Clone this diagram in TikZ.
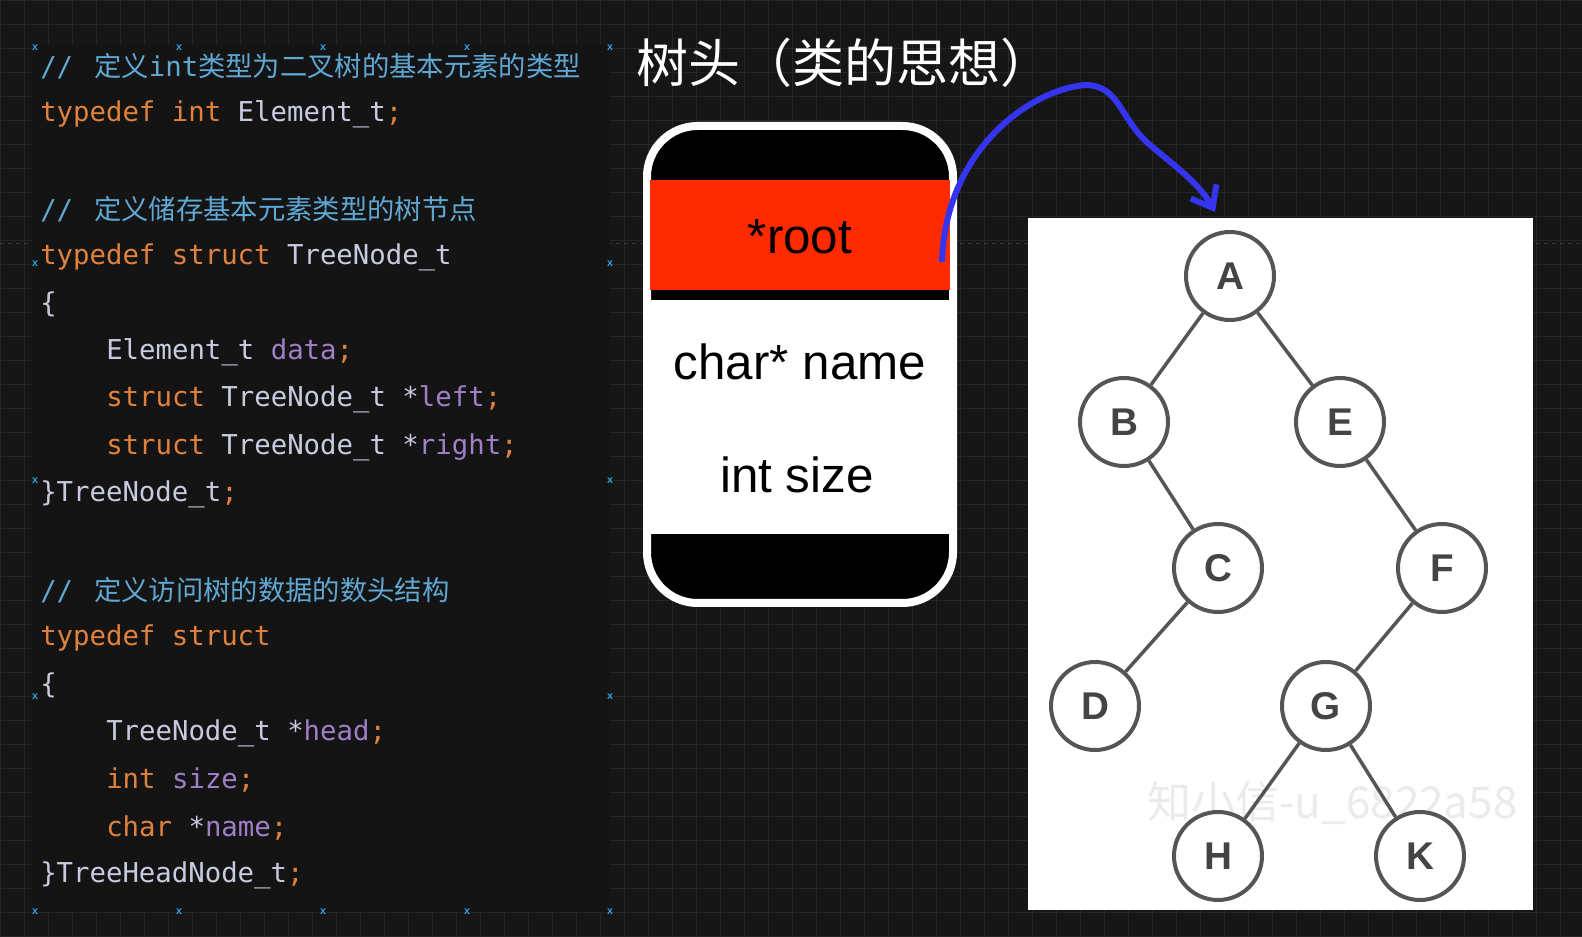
\documentclass[tikz,border=0pt]{standalone}
\usepackage{fontspec}
\setmainfont{Liberation Sans}
\setmonofont{DejaVu Sans Mono}
\newfontfamily\cjk{Noto Sans CJK SC}
\usetikzlibrary{arrows.meta}
\definecolor{bgc}{HTML}{161616}
\definecolor{gridc}{HTML}{262626}
\definecolor{dashc}{HTML}{3A3A3A}
\definecolor{kw}{HTML}{E0823D}
\definecolor{tx}{HTML}{C8CBE0}
\definecolor{fd}{HTML}{A07FC8}
\definecolor{cm}{HTML}{5FA8D3}
\definecolor{mk}{HTML}{2BA3E0}
\definecolor{rootred}{HTML}{FF2A00}
\definecolor{arr}{HTML}{3535F0}
\definecolor{tn}{HTML}{555555}
\tikzset{
 code/.style={anchor=west,inner sep=0,font=\ttfamily\fontsize{20.5}{20.5}\selectfont,text=tx},
 cmt/.style={anchor=west,inner sep=0,font=\cjk\fontsize{20.5}{20.5}\selectfont,text=cm},
 big/.style={font=\fontsize{37}{37}\selectfont},
 tnode/.style={circle,draw=tn,line width=3pt,fill=white,minimum size=66pt,inner sep=0,font=\bfseries\fontsize{29}{29}\selectfont,text=tn!80!black},
 tedge/.style={draw=tn,line width=2.6pt}
}
\newcommand{\xm}[2]{\node[text=mk,inner sep=0,font=\bfseries\fontsize{8}{8}\selectfont] at (#1,#2) {x};}
\begin{document}
\begin{tikzpicture}[x=0.75pt,y=-0.75pt]
\useasboundingbox (0,0) rectangle (1582,937);
\fill[bgc] (0,0) rectangle (1582,937);
\foreach \i in {0,24,...,1582} \draw[gridc,line width=0.4pt] (\i,0) -- (\i,937);
\foreach \j in {0,24,...,937} \draw[gridc,line width=0.4pt] (0,\j) -- (1582,\j);
\draw[dashc,dashed,line width=0.6pt] (0,243) -- (1582,243);
\fill[black!92] (32,45) rectangle (610,912);
\foreach \a/\b in {35/48,179/48,323/48,467/48,610/48,35/264,610/264,35/481,610/481,35/697,610/697,35/912,179/912,323/912,467/912,610/912} {\xm{\a}{\b}}
% code
\node[cmt] at (40,66) {{\ttfamily //\ }\,定义{\ttfamily int}类型为二叉树的基本元素的类型};
\node[code] at (40,114) {\textcolor{kw}{typedef int} Element\_t\textcolor{kw}{;}};
\node[cmt] at (40,209) {{\ttfamily //\ }\,定义储存基本元素类型的树节点};
\node[code] at (40,257) {\textcolor{kw}{typedef struct} TreeNode\_t};
\node[code] at (40,304) {\{};
\node[code] at (106,352) {Element\_t \textcolor{fd}{data}\textcolor{kw}{;}};
\node[code] at (106,399) {\textcolor{kw}{struct} TreeNode\_t *\textcolor{fd}{left}\textcolor{kw}{;}};
\node[code] at (106,447) {\textcolor{kw}{struct} TreeNode\_t *\textcolor{fd}{right}\textcolor{kw}{;}};
\node[code] at (40,494) {\}TreeNode\_t\textcolor{kw}{;}};
\node[cmt] at (40,590) {{\ttfamily //\ }\,定义访问树的数据的数头结构};
\node[code] at (40,638) {\textcolor{kw}{typedef struct}};
\node[code] at (40,685) {\{};
\node[code] at (106,733) {TreeNode\_t *\textcolor{fd}{head}\textcolor{kw}{;}};
\node[code] at (106,780) {\textcolor{kw}{int} \textcolor{fd}{size}\textcolor{kw}{;}};
\node[code] at (106,828) {\textcolor{kw}{char} *\textcolor{fd}{name}\textcolor{kw}{;}};
\node[code] at (40,875) {\}TreeHeadNode\_t\textcolor{kw}{;}};
% title
\node[anchor=west,inner sep=0,text=white,font=\cjk\fontsize{39}{39}\selectfont] (title) at (636,63) {树头（类的思想）};
% head box
\draw[white,line width=6pt,fill=black,rounded corners=38pt] (647,126) rectangle (953,603);
\fill[white] (650,300) rectangle (950,534);
\fill[rootred] (650,180) rectangle (950,290);
\node[big,text=black] (root) at (800,237) {*root};
\node[big,text=black] (name) at (800,362) {char* name};
\node[big,text=black] (size) at (797,475) {int size};
% tree image
\fill[white] (1028,218) rectangle (1533,910);
\begin{scope}
\clip (1028,218) rectangle (1533,910);
\node[anchor=west,text=black!8,font=\cjk\fontsize{33}{33}\selectfont] (wm) at (1143,803) {知小信-u\_6822a58};
\end{scope}
\node[tnode] (A) at (1230,276) {A};
\node[tnode] (B) at (1124,422) {B};
\node[tnode] (E) at (1340,422) {E};
\node[tnode] (C) at (1218,568) {C};
\node[tnode] (F) at (1442,568) {F};
\node[tnode] (D) at (1095,706) {D};
\node[tnode] (G) at (1326,706) {G};
\node[tnode] (H) at (1218,856) {H};
\node[tnode] (K) at (1420,856) {K};
\foreach \p/\q in {A/B,A/E,B/C,E/F,C/D,F/G,G/H,G/K} \draw[tedge] (\p) -- (\q);
% arrow
\coordinate (s) at (942,262);
\coordinate (t) at (1215,212);
\draw[arr,line width=4.5pt,-{Straight Barb[length=14pt,width=22pt]}] (s) .. controls (945,150) and (1030,90) .. (1085,85) .. controls (1120,85) and (1120,120) .. (1150,145) .. controls (1180,170) and (1200,185) .. (t);
\end{tikzpicture}
\end{document}
